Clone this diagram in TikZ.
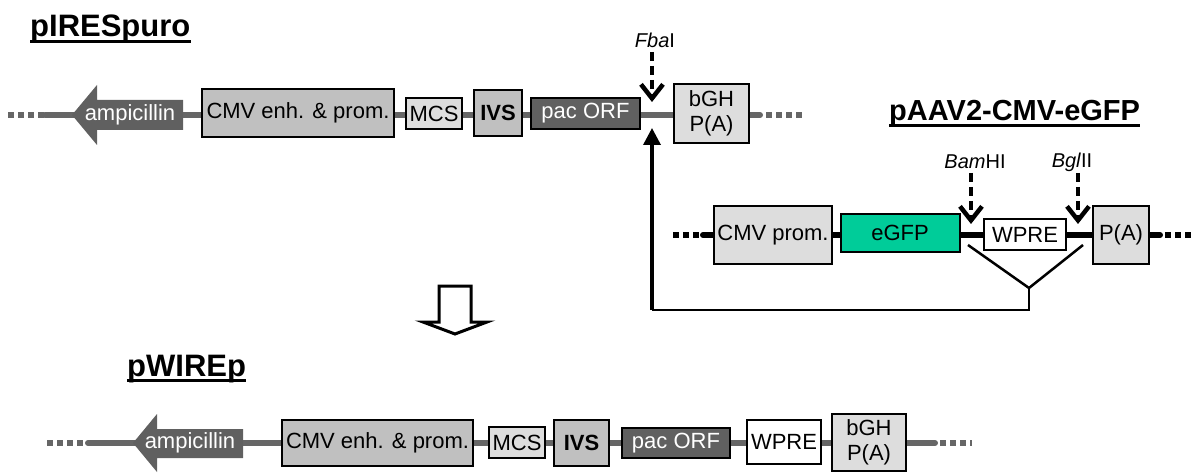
\documentclass[tikz,border=0pt]{standalone}
\usepackage{fontspec}
\setmainfont{Liberation Sans}
\usetikzlibrary{arrows.meta,backgrounds}
\definecolor{bbgray}{RGB}{102,102,102}
\definecolor{darkfill}{RGB}{96,96,96}
\definecolor{midfill}{RGB}{192,192,192}
\definecolor{lightfill}{RGB}{221,221,221}
\definecolor{gfpfill}{RGB}{0,204,153}
\tikzset{
  ebox/.style={draw=black, line width=2pt, inner sep=0pt, align=center,
               font=\fontsize{22}{25}\selectfont},
  darkbox/.style={ebox, fill=darkfill, text=white},
  midbox/.style={ebox, fill=midfill},
  lightbox/.style={ebox, fill=lightfill},
  bbone/.style={line width=6pt, bbgray, line cap=round},
  bdots/.style={line width=6pt, bbgray, dash pattern=on 6pt off 4pt},
  ptitle/.style={font=\fontsize{31}{31}\selectfont\bfseries, inner sep=0pt, anchor=base west},
  uline/.style={line width=3pt},
  sitelabel/.style={font=\fontsize{20}{22}\selectfont, inner sep=0pt},
  cutarrow/.style={line width=4.5pt, dash pattern=on 9pt off 5pt,
              -{Straight Barb[length=14pt,width=22pt,line width=4.5pt]}},
  amptext/.style={font=\fontsize{22}{25}\selectfont, text=white, inner sep=0pt},
  vline/.style={line width=2.5pt},
}

\begin{document}
\begin{tikzpicture}[x=1pt,y=-1pt,line join=miter]
  \useasboundingbox (0,0) rectangle (1194,473);
  % ---- pIRESpuro ----
  \node[ptitle] (t1) at (30,37) {pIRESpuro};
  \draw[uline] ([yshift=-4.5pt]t1.base west) -- ([yshift=-4.5pt]t1.base east);
  \fill[darkfill] (72,115) -- (97,85) -- (97,100) -- (183,100) -- (183,130) -- (97,130) -- (97,145) -- cycle;
  \node[amptext] (amp1) at (130,115) {ampicillin};
  \node[midbox, minimum width=192, minimum height=48] (cmv1) at (298,113) {CMV enh. \& prom.};
  \node[lightbox, minimum width=56, minimum height=31] (mcs1) at (434,113.5) {MCS};
  \node[midbox, minimum width=48, minimum height=46, font=\fontsize{22}{25}\selectfont\bfseries] (ivs1) at (498,113) {IVS};
  \node[darkbox, minimum width=109, minimum height=31] (pac1) at (585.5,113.5) {pac ORF};
  \node[lightbox, minimum width=75, minimum height=59] (bgh1) at (711.5,113.5) {bGH\\P(A)};
  \coordinate (l1d) at (8,115); \coordinate (l1) at (45,115);
  \coordinate (r1) at (760,115); \coordinate (r1d) at (766,115); \coordinate (r1e) at (802,115);
  \begin{scope}[on background layer]
    \draw[bbone] (l1) -- (r1);
  \end{scope}
  \draw[bdots] (l1d) -- (l1);
  \draw[bdots] (r1d) -- (r1e);
  % Fba I
  \node[sitelabel] (fba) at (655,40) {\textit{Fba}I};
  \coordinate (fbatop) at (652,52); \coordinate (fbacut) at (652,102);
  \draw[cutarrow] (fbatop) -- (fbacut);
  % ---- pAAV2-CMV-eGFP ----
  \node[ptitle, font=\fontsize{29}{29}\selectfont\bfseries] (t2) at (889,121) {pAAV2-CMV-eGFP};
  \draw[uline] ([yshift=-4.5pt]t2.base west) -- ([yshift=-4.5pt]t2.base east);
  \node[lightbox, minimum width=118, minimum height=58] (cmvp) at (773,235) {CMV prom.};
  \node[ebox, fill=gfpfill, minimum width=119, minimum height=38] (egfp) at (900,233) {eGFP};
  \node[ebox, fill=white, minimum width=82, minimum height=31] (wpre) at (1025,234.5) {WPRE};
  \node[lightbox, minimum width=56, minimum height=58] (pa) at (1121,235) {P(A)};
  \coordinate (l2d) at (673,235); \coordinate (l2) at (703,235);
  \coordinate (r2) at (1160,235); \coordinate (r2d) at (1165,235); \coordinate (r2e) at (1194,235);
  \begin{scope}[on background layer]
    \draw[bbone, black] (l2) -- (r2);
  \end{scope}
  \draw[bdots, black] (l2d) -- ([xshift=-3pt]l2);
  \draw[bdots, black] (r2d) -- (r2e);
  \node[sitelabel] (bam) at (975,162) {\textit{Bam}HI};
  \node[sitelabel] (bgl) at (1072,162) {\textit{Bgl}II};
  \coordinate (bamtop) at (971,173); \coordinate (bamcut) at (971,224);
  \coordinate (bgltop) at (1078,173); \coordinate (bglcut) at (1078,224);
  \draw[cutarrow] (bamtop) -- (bamcut);
  \draw[cutarrow] (bgltop) -- (bglcut);
  % WPRE fragment -> Fba I site
  \coordinate (vl) at (968,245); \coordinate (vr) at (1083,245);
  \coordinate (vb) at (1029,288); \coordinate (vd) at (1029,310);
  \coordinate (hd) at (652,310); \coordinate (ins) at (652,128);
  \draw[vline] (vl) -- (vb) -- (vr);
  \draw[vline] (vb) -- (vd) -- (hd);
  \draw[line width=3.5pt, -{Triangle[length=17pt,width=17pt]}] (hd) -- (ins);
  % big hollow arrow
  \draw[line width=3pt, fill=white] (439,286) -- (471,286) -- (471,322) -- (487,322) -- (455,334)
    -- (423,322) -- (439,322) -- cycle;
  % ---- pWIREp ----
  \node[ptitle] (t3) at (127,376) {pWIREp};
  \draw[uline] ([yshift=-4.5pt]t3.base west) -- ([yshift=-4.5pt]t3.base east);
  \fill[darkfill] (133,443) -- (157,414) -- (157,429) -- (243,429) -- (243,458) -- (157,458) -- (157,472) -- cycle;
  \node[amptext] (amp3) at (190,443) {ampicillin};
  \node[midbox, minimum width=191, minimum height=46] (cmv3) at (377.5,443) {CMV enh. \& prom.};
  \node[lightbox, minimum width=56, minimum height=31] (mcs3) at (517,442.5) {MCS};
  \node[midbox, minimum width=55, minimum height=46, font=\fontsize{22}{25}\selectfont\bfseries] (ivs3) at (581.5,443) {IVS};
  \node[darkbox, minimum width=108, minimum height=30] (pac3) at (676,443) {pac ORF};
  \node[ebox, fill=white, minimum width=74, minimum height=44] (wpre3) at (784,442) {WPRE};
  \node[lightbox, minimum width=74, minimum height=57] (bgh3) at (869,442.5) {bGH\\P(A)};
  \coordinate (l3d) at (47,443); \coordinate (l3) at (88,443);
  \coordinate (r3) at (935,443); \coordinate (r3d) at (940,443); \coordinate (r3e) at (972,443);
  \begin{scope}[on background layer]
    \draw[bbone] (l3) -- (r3);
  \end{scope}
  \draw[bdots] (l3d) -- ([xshift=-3pt]l3);
  \draw[bdots] (r3d) -- (r3e);
\end{tikzpicture}
\end{document}
